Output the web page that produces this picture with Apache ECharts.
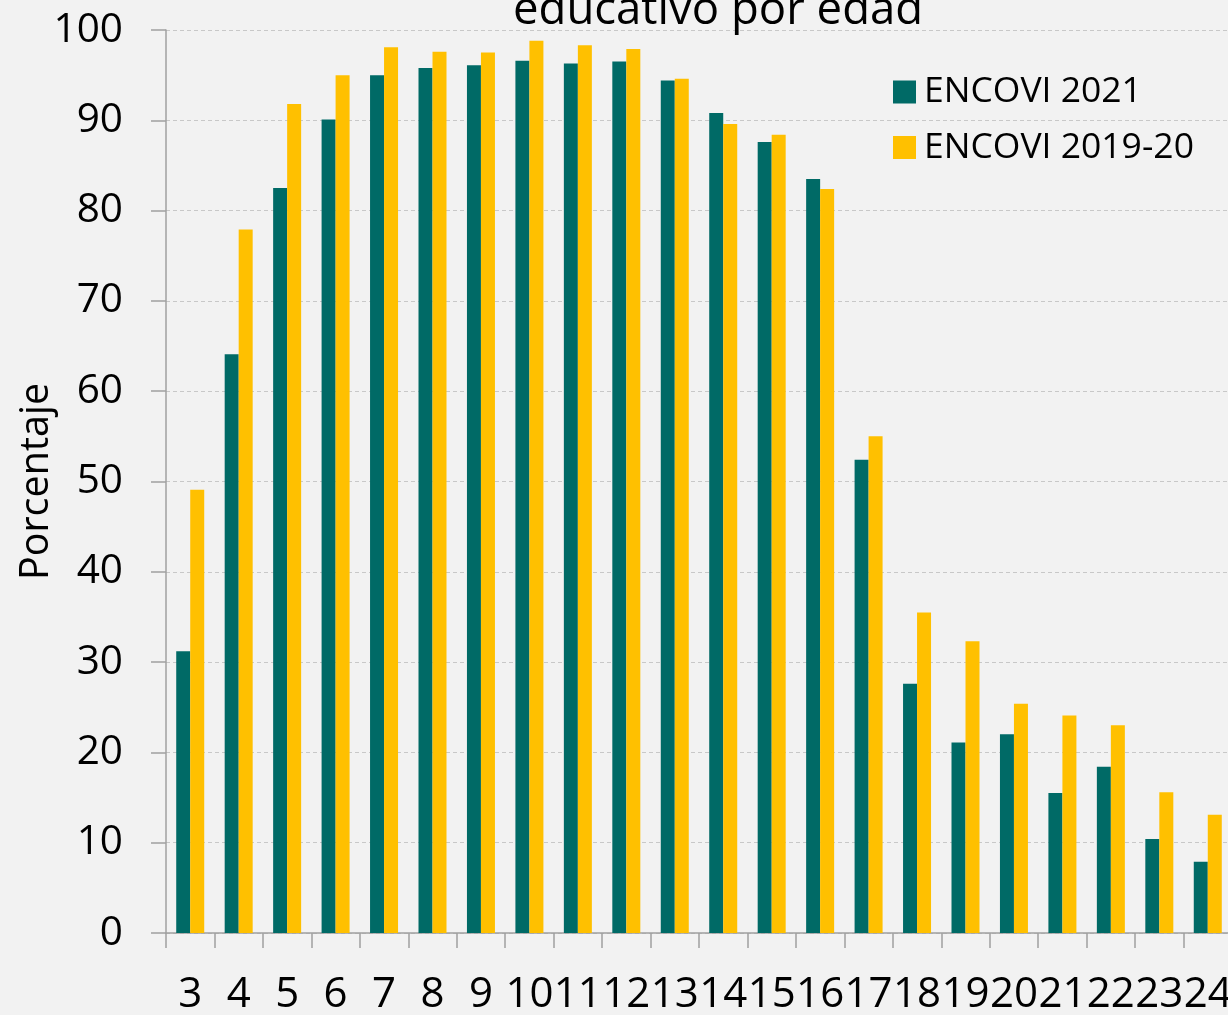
<!DOCTYPE html>
<html>
<head>
<meta charset="utf-8">
<script src="https://cdn.jsdelivr.net/npm/echarts@6/dist/echarts.min.js"></script>
<style>
  html, body { margin: 0; padding: 0; background: #f2f2f2; }
  #chart { width: 1228px; height: 1015px; }
</style>
</head>
<body>
<div id="chart"></div>
<script>
  const ages = ['3', '4', '5', '6', '7', '8', '9', '10', '11', '12', '13', '14', '15', '16', '17', '18', '19', '20', '21', '22', '23', '24'];
  const encovi2021 = [31.2, 64.1, 82.5, 90.1, 95.0, 95.8, 96.1, 96.6, 96.3, 96.5, 94.4, 90.8, 87.6, 83.5, 52.4, 27.6, 21.1, 22.0, 15.5, 18.4, 10.4, 7.9];
  const encovi2019 = [49.1, 77.9, 91.8, 95.0, 98.1, 97.6, 97.5, 98.8, 98.3, 97.9, 94.6, 89.6, 88.4, 82.4, 55.0, 35.5, 32.3, 25.4, 24.1, 23.0, 15.6, 13.1];
  const yTicks = [0, 10, 20, 30, 40, 50, 60, 70, 80, 90, 100];

  const font = '"Open Sans", "Noto Sans", sans-serif';
  const colors = ['#006a66', '#ffc000'];

  const myChart = echarts.init(document.getElementById('chart'));

  const options = {
    backgroundColor: '#f2f2f2',
    animation: false,
    title: {
      text: 'educativo por edad',
      left: 508,
      top: -17,
      textStyle: { fontFamily: font, fontSize: 45.5, fontWeight: 'normal', color: '#000' },
    },
    legend: {
      orient: 'vertical',
      left: 888,
      top: 69,
      itemWidth: 23,
      itemHeight: 23,
      itemGap: 19.5,
      icon: 'rect',
      textStyle: { fontFamily: font, fontSize: 35.5, lineHeight: 35.5, color: '#000', padding: [0, 0, 0, 3] },
      data: ['ENCOVI 2021', 'ENCOVI 2019-20'],
    },
    grid: {
      left: 166,
      top: 30,
      width: 1066,
      bottom: 82,
      outerBoundsMode: 'none',
    },
    xAxis: {
      type: 'category',
      data: ages,
      axisLine: { lineStyle: { color: '#a0a0a0', width: 1.5 } },
      axisTick: { show: true, length: 15, lineStyle: { color: '#a0a0a0', width: 1.5 } },
      axisLabel: { fontFamily: font, fontSize: 42, color: '#000', margin: 41, interval: 0 },
    },
    yAxis: {
      type: 'value',
      min: yTicks[0],
      max: yTicks[yTicks.length - 1],
      interval: 10,
      name: 'Porcentaje',
      nameLocation: 'middle',
      nameGap: 109,
      nameMoveOverlap: false,
      nameTextStyle: { fontFamily: font, fontSize: 39.5, color: '#000' },
      axisLine: { show: true, lineStyle: { color: '#a0a0a0', width: 1.5 } },
      axisTick: { show: true, length: 15, lineStyle: { color: '#a0a0a0', width: 1.5 } },
      axisLabel: { fontFamily: font, fontSize: 40.5, color: '#000', margin: 43 },
      splitLine: { lineStyle: { color: '#c8c8c8', width: 1, type: [4, 3] } },
    },
    series: [
      {
        name: 'ENCOVI 2021',
        type: 'bar',
        data: encovi2021,
        barWidth: 14,
        barGap: '0%',
        itemStyle: { color: colors[0] },
      },
      {
        name: 'ENCOVI 2019-20',
        type: 'bar',
        data: encovi2019,
        barWidth: 14,
        barGap: '0%',
        itemStyle: { color: colors[1] },
      },
    ],
  };

  myChart.setOption(options);
</script>
</body>
</html>
